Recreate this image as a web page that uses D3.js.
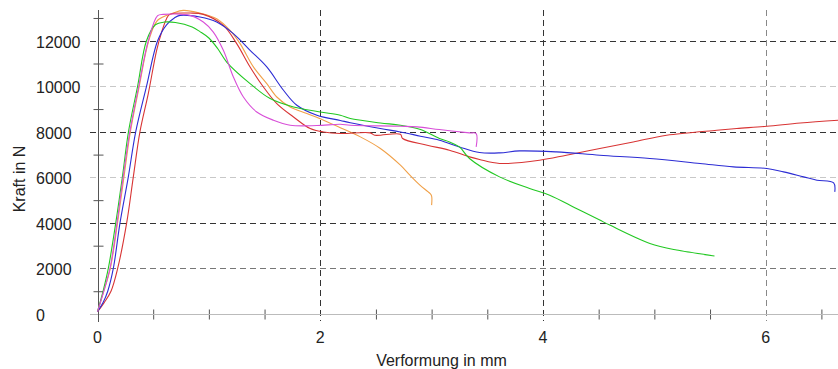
<!DOCTYPE html>
<html>
<head>
<meta charset="utf-8">
<script src="https://cdn.jsdelivr.net/npm/d3@7/dist/d3.min.js"></script>
<style>
  body { margin: 0; background: #fff; }
  svg { display: block; font-family: "Liberation Sans", Arial, sans-serif; }
  .lbl { font-size: 16px; fill: #222; }
</style>
</head>
<body>
<svg width="838" height="369"></svg>
<script>
// Verformung in mm / Kraft in N, je Probe
var probeGruen = [[0,100],[0.05,1000],[0.097,2000],[0.164,4000],[0.223,6000],[0.278,8000],[0.36,10000],[0.44,12000],[0.52,12700],[0.6,12820],[0.7,12800],[0.85,12600],[0.92,12400],[1.0,12120],[1.08,11650],[1.16,11065],[1.37,10118],[1.55,9460],[1.76,9092],[2.0,8873],[2.18,8728],[2.27,8583],[2.54,8390],[2.72,8290],[2.9,8100],[3.07,7706],[3.16,7557],[3.25,7338],[3.34,6829],[3.61,6022],[3.88,5513],[4.06,5219],[4.3,4636],[4.51,4123],[4.6,3904],[4.96,3100],[5.2,2807],[5.54,2544]];
var probeMagenta = [[0,100],[0.05,900],[0.112,2000],[0.175,4000],[0.23,6000],[0.29,8000],[0.37,10000],[0.456,12000],[0.54,13100],[0.59,13158],[0.83,13114],[0.95,12820],[1.04,12381],[1.13,11580],[1.22,10410],[1.31,9530],[1.43,8873],[1.58,8509],[1.73,8290],[1.97,8276],[2.18,8333],[2.27,8290],[2.72,8246],[2.87,8216],[3.07,8100],[3.34,7953],[3.40,7925],[3.40,7338]];
var probeBlau = [[0,100],[0.05,500],[0.092,1000],[0.142,2000],[0.202,4000],[0.276,6000],[0.343,8000],[0.44,10000],[0.54,12000],[0.62,12700],[0.69,13000],[0.74,13114],[0.92,13040],[1.07,12820],[1.22,12310],[1.37,11580],[1.52,10850],[1.67,9825],[1.79,9167],[1.97,8728],[2.18,8500],[2.27,8400],[2.54,8145],[2.72,7996],[2.9,7807],[3.07,7632],[3.25,7338],[3.43,7092],[3.61,7075],[3.79,7162],[4.12,7118],[4.51,6974],[4.96,6829],[5.41,6610],[5.71,6461],[6.01,6390],[6.16,6241],[6.34,6022],[6.46,5877],[6.61,5759],[6.62,5364]];
var probeRot = [[0,100],[0.06,500],[0.121,1000],[0.181,2000],[0.262,4000],[0.321,6000],[0.381,8000],[0.456,9680],[0.531,11580],[0.576,12380],[0.62,12970],[0.65,13158],[0.83,13215],[0.95,13158],[1.13,12675],[1.25,11873],[1.37,10850],[1.49,9970],[1.61,9240],[1.76,8653],[1.91,8145],[2.03,7996],[2.18,7925],[2.45,7953],[2.49,7851],[2.72,7895],[2.74,7706],[2.96,7412],[3.16,7193],[3.34,6900],[3.43,6785],[3.61,6610],[3.97,6754],[4.21,6974],[4.51,7268],[4.81,7557],[5.11,7851],[5.56,8070],[5.74,8145],[6.01,8246],[6.31,8390],[6.65,8509]];
var probeOrange = [[0,100],[0.05,900],[0.115,2000],[0.18,4000],[0.237,6000],[0.295,8000],[0.375,10000],[0.46,12000],[0.54,12900],[0.68,13215],[0.77,13333],[0.92,13215],[1.07,12970],[1.19,12456],[1.28,11873],[1.40,10850],[1.52,10118],[1.61,9530],[1.73,9092],[1.88,8800],[2.03,8509],[2.18,8180],[2.36,7778],[2.54,7268],[2.72,6535],[2.805,6096],[2.895,5658],[2.985,5294],[3.0,5180],[3.0,4780]];

var xTicksMajor = [0, 2, 4, 6];
var xTicksMinor = [0.5, 1, 1.5, 2.5, 3, 3.5, 4.5, 5, 5.5, 6.5];
var yTicksMajor = [0, 2000, 4000, 6000, 8000, 10000, 12000];
var yTicksMinor = [1000, 3000, 5000, 7000, 9000, 11000, 13000];

var reihen = [
  { werte: probeOrange, farbe: "#f0a048" },
  { werte: probeRot, farbe: "#d83434" },
  { werte: probeBlau, farbe: "#2c2cd4" },
  { werte: probeGruen, farbe: "#22c822" },
  { werte: probeMagenta, farbe: "#d84fd8" }
];

var svg = d3.select("svg"),
  width = +svg.attr("width");

var xScale = d3.scaleLinear().domain([0, 6.649]).range([97.5, width]),
  yScale = d3.scaleLinear().domain([0, 13350]).range([314, 10]);

// Gitterlinien (horizontal)
function gridFarbe(v) {
  if (v % 4000 === 0) return "#333";
  if (v === 2000 || v === 8000) return "#777";
  return "#c8c8c8";
}
svg.append("g").selectAll("line")
  .data(yTicksMajor.filter(function (d) { return d > 0; }))
  .enter().append("line")
  .attr("x1", 90).attr("x2", width)
  .attr("y1", function (d) { return Math.round(yScale(d)) + 0.5; })
  .attr("y2", function (d) { return Math.round(yScale(d)) + 0.5; })
  .attr("stroke", gridFarbe)
  .attr("stroke-dasharray", "6,4");

// Gitterlinien (vertikal)
svg.append("g").selectAll("line")
  .data(xTicksMajor.filter(function (d) { return d > 0; }))
  .enter().append("line")
  .attr("x1", function (d) { return Math.round(xScale(d)) + 0.5; })
  .attr("x2", function (d) { return Math.round(xScale(d)) + 0.5; })
  .attr("y1", 10).attr("y2", 321)
  .attr("stroke", function (d) { return d === 6 ? "#888" : "#333"; })
  .attr("stroke-dasharray", "6,4");

// x-Achse
var xAxis = d3.axisBottom(xScale).tickValues(xTicksMinor).tickSize(10).tickFormat("");
var gx = svg.append("g")
  .attr("transform", "translate(0," + (Math.round(yScale(0)) - 4.5) + ")")
  .call(xAxis);
gx.select(".domain").remove();
gx.selectAll(".tick line").attr("stroke", "#555");

svg.append("line")
  .attr("x1", 90).attr("x2", width)
  .attr("y1", Math.round(yScale(0)) + 0.5).attr("y2", Math.round(yScale(0)) + 0.5)
  .attr("stroke", "#bbb");

svg.append("g").selectAll("text")
  .data(xTicksMajor)
  .enter().append("text")
  .attr("class", "lbl")
  .attr("x", function (d) { return xScale(d); })
  .attr("y", 343)
  .attr("text-anchor", "middle")
  .text(function (d) { return d; });

// y-Achse
var yAxis = d3.axisLeft(yScale).tickValues(yTicksMinor).tickSize(10).tickFormat("");
var gy = svg.append("g")
  .attr("transform", "translate(" + (Math.round(xScale(0)) + 5.5) + ",0)")
  .call(yAxis);
gy.select(".domain").remove();
gy.selectAll(".tick line").attr("stroke", "#555");

svg.append("line")
  .attr("x1", Math.round(xScale(0)) + 0.5).attr("x2", Math.round(xScale(0)) + 0.5)
  .attr("y1", 10).attr("y2", 322)
  .attr("stroke", "#555");

svg.append("g").selectAll("text")
  .data(yTicksMajor)
  .enter().append("text")
  .attr("class", "lbl")
  .attr("x", 36)
  .attr("y", function (d) { return yScale(d) + 7; })
  .text(function (d) { return d; });

// Achsentitel
svg.append("text")
  .attr("class", "lbl")
  .attr("transform", "translate(25,179) rotate(-90)")
  .attr("text-anchor", "middle")
  .text("Kraft in N");

svg.append("text")
  .attr("class", "lbl")
  .attr("x", 441.5)
  .attr("y", 366)
  .attr("text-anchor", "middle")
  .text("Verformung in mm");

// Kurven
var linie = d3.line()
  .x(function (d) { return xScale(d[0]); })
  .y(function (d) { return yScale(d[1]); })
  .curve(d3.curveCatmullRom.alpha(0.5));

svg.append("g").selectAll("path")
  .data(reihen)
  .enter().append("path")
  .attr("d", function (d) { return linie(d.werte); })
  .attr("fill", "none")
  .attr("stroke", function (d) { return d.farbe; })
  .attr("stroke-width", 1.1);
</script>
</body>
</html>
